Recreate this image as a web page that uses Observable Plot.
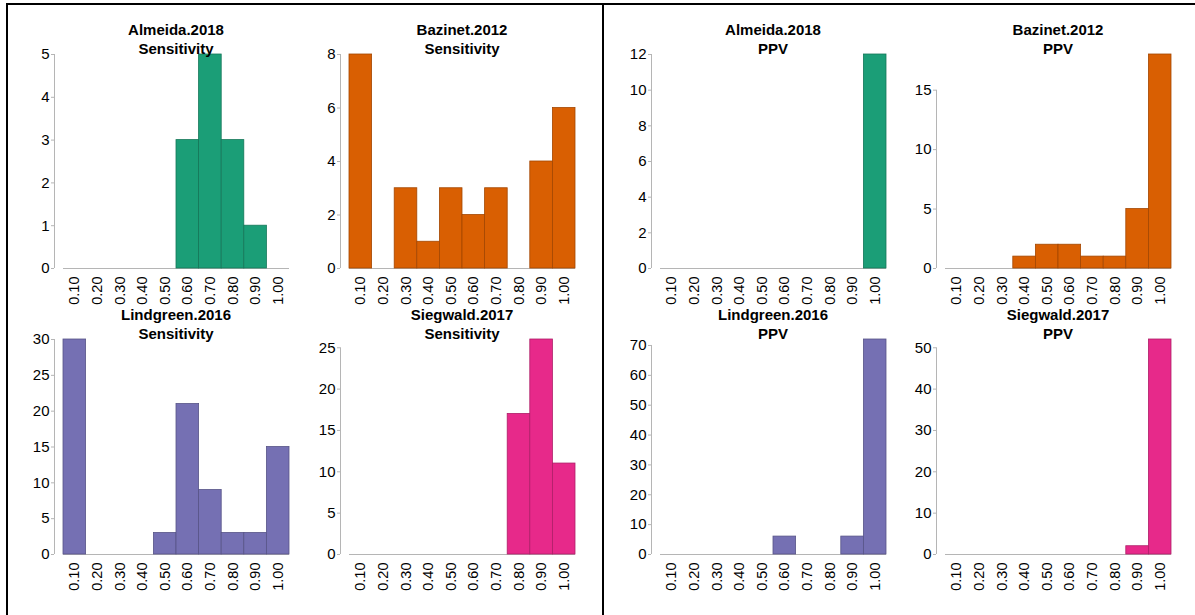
<!DOCTYPE html>
<html>
<head>
<meta charset="utf-8">
<script src="https://cdn.jsdelivr.net/npm/d3@7"></script>
<script src="https://cdn.jsdelivr.net/npm/@observablehq/plot@0.6"></script>
<style>
  html, body { margin: 0; padding: 0; background: #fff; }
  #page { position: relative; width: 1195px; height: 615px; overflow: hidden; background: #fff;
          font-family: "Liberation Sans", Arial, Helvetica, sans-serif; color: #000; }
  .cell { position: absolute; z-index: 2; }
  .title { position: absolute; z-index: 3; text-align: center; font-weight: bold; font-size: 15px;
           line-height: 19px; white-space: nowrap; transform: translateX(-50%); }
  .frame { position: absolute; z-index: 4; background: #000; }
</style>
</head>
<body>
<div id="page"></div>
<script>
// Histogram bins (bin centres) shared by every panel
const bins = [0.1, 0.2, 0.3, 0.4, 0.5, 0.6, 0.7, 0.8, 0.9, 1.0];

// Studies and their colours
const studies = ["Almeida.2018", "Bazinet.2012", "Lindgreen.2016", "Siegwald.2017"];
const studyColors = ["#1b9e77", "#d95f02", "#7570b3", "#e7298a"];

// Counts per bin: sensitivity
const sensAlmeida   = [0, 0, 0, 0, 0, 3, 5, 3, 1, 0];
const sensBazinet   = [8, 0, 3, 1, 3, 2, 3, 0, 4, 6];
const sensLindgreen = [30, 0, 0, 0, 3, 21, 9, 3, 3, 15];
const sensSiegwald  = [0, 0, 0, 0, 0, 0, 0, 17, 26, 11];

// Counts per bin: positive predictive value
const ppvAlmeida   = [0, 0, 0, 0, 0, 0, 0, 0, 0, 12];
const ppvBazinet   = [0, 0, 0, 1, 2, 2, 1, 1, 5, 18];
const ppvLindgreen = [0, 0, 0, 0, 0, 6, 0, 0, 6, 72];
const ppvSiegwald  = [0, 0, 0, 0, 0, 0, 0, 0, 2, 52];

// Y tick values per panel
const sensTicks = [
  [0, 1, 2, 3, 4, 5],
  [0, 2, 4, 6, 8],
  [0, 5, 10, 15, 20, 25, 30],
  [0, 5, 10, 15, 20, 25]
];
const ppvTicks = [
  [0, 2, 4, 6, 8, 10, 12],
  [0, 5, 10, 15],
  [0, 10, 20, 30, 40, 50, 60, 70],
  [0, 10, 20, 30, 40, 50]
];

const sensCounts = [sensAlmeida, sensBazinet, sensLindgreen, sensSiegwald];
const ppvCounts = [ppvAlmeida, ppvBazinet, ppvLindgreen, ppvSiegwald];

// Layout: left edge of the bar area for each column, top/bottom of each row
const colBarLeft = [63, 349, 660, 945];
const rowTop = [54, 339];
const rowBottom = [268, 554];
const barWidth = 226;   // px for the ten bins
const axisGap = 9;      // px between y axis line and first bar
const mLeft = 50, mRight = 8, mTop = 10, mBottom = 45;

const page = document.getElementById("page");
const grey = "#b5b5b5";
const fmt = d3.format(".2f");

function panel(name, metric, counts, ticks, color, col, row) {
  const data = bins.map((b, i) => ({bin: b, count: counts[i]}));
  const x0 = 0.05 - axisGap / barWidth;
  const plotH = rowBottom[row] - rowTop[row];
  const width = mLeft + axisGap + barWidth + mRight;
  const height = mTop + plotH + mBottom;
  const maxCount = d3.max(counts);

  const chart = Plot.plot({
    width, height,
    marginLeft: mLeft, marginRight: mRight, marginTop: mTop, marginBottom: mBottom,
    x: {domain: [x0, 1.05]},
    y: {domain: [0, maxCount]},
    style: {fontFamily: "'Liberation Sans', Arial, Helvetica, sans-serif", fontSize: "15px", color: "#000", background: "transparent", overflow: "visible"},
    marks: [
      Plot.ruleY([0], {x1: 0.05, x2: 1.05, stroke: grey}),
      Plot.ruleX([x0], {y1: 0, y2: d3.max(ticks), stroke: grey}),
      Plot.rectY(data.filter(d => d.count > 0), {
        x1: d => d.bin - 0.05, x2: d => d.bin + 0.05, y: "count",
        fill: color, stroke: d3.color(color).darker(0.8).formatHex(), strokeWidth: 0.8
      }),
      Plot.axisY(ticks, {tickSize: 3, fill: "none", stroke: grey, label: null}),
      Plot.axisY(ticks, {tickSize: 3, tickPadding: 2, stroke: "none", fill: "#000", fontSize: 15, label: null}),
      Plot.axisX(bins, {tickSize: 0, tickPadding: 8, tickRotate: -90, tickFormat: fmt, fontSize: 14.5, fill: "#000", label: null})
    ]
  });

  const cell = document.createElement("div");
  cell.className = "cell";
  cell.style.left = (colBarLeft[col] - axisGap - mLeft) + "px";
  cell.style.top = (rowTop[row] - mTop) + "px";
  cell.appendChild(chart);
  page.appendChild(cell);

  const centre = colBarLeft[col] + barWidth / 2;
  const title = document.createElement("div");
  title.className = "title";
  title.style.left = centre + "px";
  title.style.top = (rowTop[row] - 34) + "px";
  title.innerHTML = `${name}<br>${metric}`;
  page.appendChild(title);
}

// Left half: sensitivity; right half: PPV; each a 2x2 grid of studies
studies.forEach((s, i) => {
  const col = i % 2, row = Math.floor(i / 2);
  panel(s, "Sensitivity", sensCounts[i], sensTicks[i], studyColors[i], col, row);
  panel(s, "PPV", ppvCounts[i], ppvTicks[i], studyColors[i], col + 2, row);
});

// Frame lines
[
  {left: 6, top: 3, width: 1189, height: 2},
  {left: 6, top: 3, width: 2, height: 612},
  {left: 602, top: 3, width: 2, height: 612}
].forEach(f => {
  const d = document.createElement("div");
  d.className = "frame";
  Object.assign(d.style, {left: f.left + "px", top: f.top + "px", width: f.width + "px", height: f.height + "px"});
  page.appendChild(d);
});
</script>
</body>
</html>
